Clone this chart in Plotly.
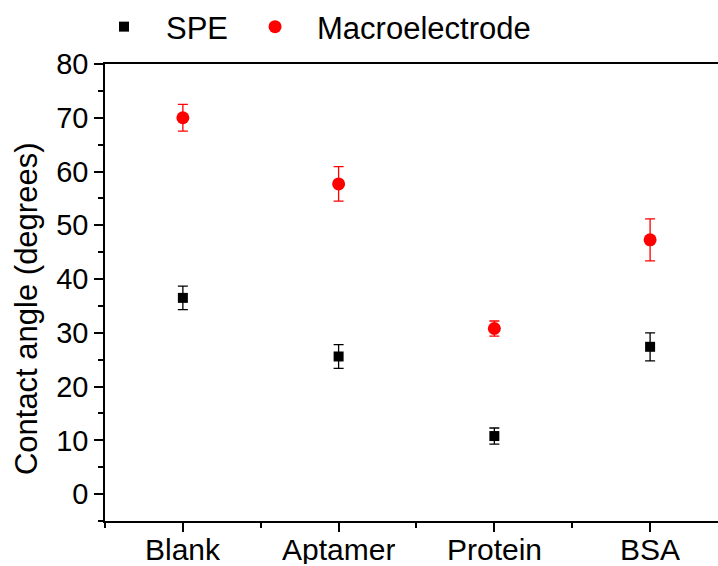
import plotly.graph_objects as go

categories = ["Blank", "Aptamer", "Protein", "BSA"]
x_pos = [1, 2, 3, 4]
spe_vals = [36.5, 25.6, 10.8, 27.4]
spe_err = [2.2, 2.2, 1.5, 2.6]
macro_vals = [70.0, 57.7, 30.8, 47.3]
macro_err = [2.5, 3.2, 1.4, 3.9]

fig = go.Figure()
fig.add_trace(go.Scatter(
    x=x_pos, y=spe_vals, mode="markers", name="SPE",
    marker=dict(symbol="square", size=10, color="black"),
    error_y=dict(type="data", array=spe_err, color="black", thickness=1.3, width=5),
))
fig.add_trace(go.Scatter(
    x=x_pos, y=macro_vals, mode="markers", name="Macroelectrode",
    marker=dict(symbol="circle", size=13, color="#ff0000"),
    error_y=dict(type="data", array=macro_err, color="#ff0000", thickness=1.3, width=5),
))

font_family = "Liberation Sans, Arial, sans-serif"

annotations = [dict(
    text="Contact angle (degrees)", textangle=-90, showarrow=False,
    xref="paper", yref="paper", x=-0.127, y=0.464,
    xanchor="center", yanchor="middle", font=dict(size=31),
)]
for xv, lab in zip(x_pos, categories):
    annotations.append(dict(
        text=lab, showarrow=False, xref="x", yref="paper", x=xv, y=-0.0605,
        xanchor="center", yanchor="middle", font=dict(size=30),
        height=30, valign="middle", borderpad=0,
    ))

fig.update_layout(
    width=718, height=566,
    margin=dict(l=105, r=0, t=64, b=45, autoexpand=False),
    paper_bgcolor="white", plot_bgcolor="white",
    font=dict(family=font_family, size=30, color="black"),
    showlegend=True,
    legend=dict(orientation="h", x=-0.0375, xanchor="left", y=1.081, yanchor="middle",
                font=dict(size=31), itemwidth=74, bgcolor="rgba(0,0,0,0)"),
    xaxis=dict(
        range=[0.5, 4.436], tickmode="array", tickvals=x_pos, showticklabels=False,
        ticks="outside", ticklen=9, tickwidth=1.5, tickcolor="black",
        showline=True, linecolor="black", linewidth=1.6, mirror=True,
        showgrid=False, zeroline=False, automargin=False,
        minor=dict(tickmode="linear", tick0=0.5, dtick=1, ticks="outside", ticklen=5,
                   tickwidth=1.5, tickcolor="black", showgrid=False),
    ),
    yaxis=dict(
        range=[-5, 80], tickmode="linear", tick0=0, dtick=10,
        ticks="outside", ticklen=9, tickwidth=1.5, tickcolor="black",
        showline=True, linecolor="black", linewidth=1.6,
        showgrid=False, zeroline=False, automargin=False,
        minor=dict(tickmode="linear", tick0=-5, dtick=10, ticks="outside", ticklen=5,
                   tickwidth=1.5, tickcolor="black", showgrid=False),
        tickfont=dict(size=29),
    ),
    annotations=annotations,
)

fig.write_html("out.html")
